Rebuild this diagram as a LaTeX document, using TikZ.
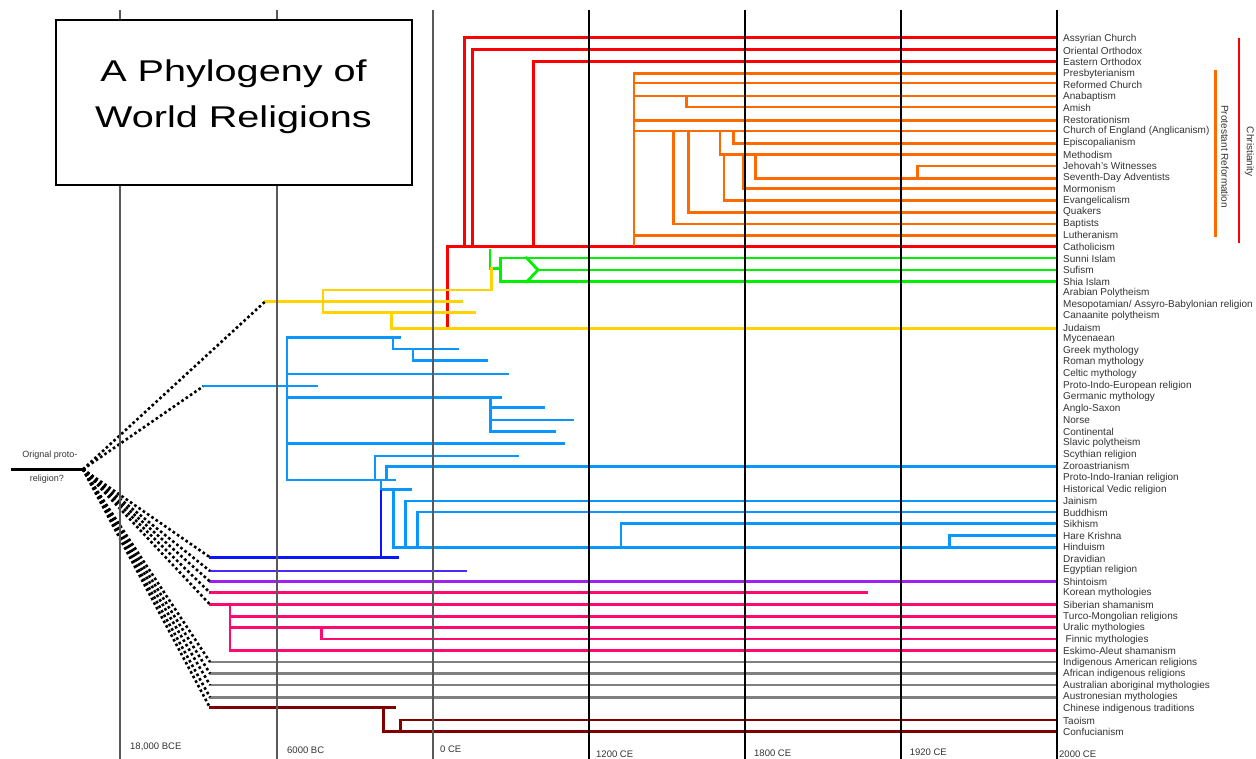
\documentclass[tikz,border=0pt]{standalone}
\usepackage{fontspec}
\setmainfont{Liberation Sans}
\usetikzlibrary{positioning}

\definecolor{cRed}{HTML}{FF0000}
\definecolor{cOrange}{HTML}{FF6A00}
\definecolor{cGreen}{HTML}{00F000}
\definecolor{cYellow}{HTML}{FFD200}
\definecolor{cBlue}{HTML}{0A96FF}
\definecolor{cDark}{HTML}{0A14FF}
\definecolor{cIndigo}{HTML}{4A28FF}
\definecolor{cPurple}{HTML}{A020F0}
\definecolor{cPink}{HTML}{FF0A6E}
\definecolor{cGray}{HTML}{808080}
\definecolor{cMaroon}{HTML}{800000}
\definecolor{cText}{HTML}{333333}

\tikzset{
  branch/.style={line width=2.8pt, line cap=rect},
  era/.style={line width=1.2pt},
  dots/.style={line width=2.6pt, dash pattern=on 2.6pt off 2.6pt},
  rel/.style={anchor=west, inner sep=0pt, text=cText, font=\fontsize{10}{12}\selectfont},
  axislbl/.style={anchor=west, inner sep=0pt, text=cText, font=\fontsize{9.5}{11}\selectfont},
}

\begin{document}
\begin{tikzpicture}[x=1pt,y=-1pt]
  \useasboundingbox (0,0) rectangle (1256,759);

  % Religions
  \foreach \t [count=\i] in {Assyrian Church, Oriental Orthodox, Eastern Orthodox,
      Presbyterianism, Reformed Church, Anabaptism, Amish, Restorationism,
      Church of England (Anglicanism), Episcopalianism, Methodism,
      Jehovah's Witnesses, Seventh-Day Adventists, Mormonism, Evangelicalism,
      Quakers, Baptists, Lutheranism, Catholicism, Sunni Islam, Sufism,
      Shia Islam, Arabian Polytheism, Mesopotamian/ Assyro-Babylonian religion,
      Canaanite polytheism, Judaism, Mycenaean, Greek mythology,
      Roman mythology, Celtic mythology, Proto-Indo-European religion,
      Germanic mythology, Anglo-Saxon, Norse, Continental, Slavic polytheism,
      Scythian religion, Zoroastrianism, Proto-Indo-Iranian religion,
      Historical Vedic religion, Jainism, Buddhism, Sikhism, Hare Krishna,
      Hinduism, Dravidian, Egyptian religion, Shintoism, Korean mythologies,
      Siberian shamanism, Turco-Mongolian religions, Uralic mythologies,
      \hspace{2.5pt}Finnic mythologies, Eskimo-Aleut shamanism,
      Indigenous American religions, African indigenous religions,
      Australian aboriginal mythologies, Austronesian mythologies,
      Chinese indigenous traditions, Taoism, Confucianism}
    \node[rel] (l\i) at (1063,{39+(\i-1)*11.55}) {\t};

  % Christianity
  \draw[branch,cRed] (447.7,328.3) |- (1055,246.7);
  \draw[branch,cRed] (464.3,246.7) |- (1055,37.5);
  \draw[branch,cRed] (472.3,246.7) |- (1055,49.5);
  \draw[branch,cRed] (533.3,246.7) |- (1055,61.5);

  \draw[branch,cOrange] (634,245) |- (1055,73.3);
  \draw[branch,cOrange] (634,83) -- (1055,83);
  \draw[branch,cOrange] (634,96) -- (1055,96);
  \draw[branch,cOrange] (686.7,96) |- (1055,107);
  \draw[branch,cOrange] (634,120.5) -- (1055,120.5);
  \draw[branch,cOrange] (634,131) -- (1055,131);
  \draw[branch,cOrange] (733.3,131) |- (1055,143.3);
  \draw[branch,cOrange] (720,131) |- (1055,154.5);
  \draw[branch,cOrange] (755.7,154.5) |- (1055,178.7);
  \draw[branch,cOrange] (917.3,178.7) |- (1055,166);
  \draw[branch,cOrange] (743.3,154.5) |- (1055,188.5);
  \draw[branch,cOrange] (724,154.5) |- (1055,200.3);
  \draw[branch,cOrange] (688.3,131) |- (1055,212.3);
  \draw[branch,cOrange] (673.3,131) |- (1055,224);
  \draw[branch,cOrange] (634,235.3) -- (1055,235.3);

  \draw[line width=2.6pt,cRed] (1239,38.3) -- (1239,242.7);
  \node[rel,anchor=center,rotate=-90] (christ) at (1249.5,151.7) {Christianity};
  \draw[line width=2.6pt,cOrange] (1215.7,70) -- (1215.7,237.3);
  \node[rel,anchor=center,rotate=-90] (protest) at (1225,156.7) {Protestant Reformation};

  % Islam
  \draw[branch,cGreen] (490,250) -- (490,268.3) -- (500.7,268.3);
  \draw[branch,cGreen] (1055,258) -- (500.7,258) -- (500.7,281.7) -- (1055,281.7);
  \draw[branch,cGreen] (526.7,258) -- (538,270) -- (526.7,281.7);
  \draw[branch,cGreen] (538,270) -- (1055,270);

  % Semitic
  \draw[branch,cYellow] (265,301.7) -- (461.7,301.7);
  \draw[branch,cYellow] (323,290) -- (323,312.7);
  \draw[branch,cYellow] (323,290) -| (491.7,268.3);
  \draw[branch,cYellow] (323,312.7) -- (475,312.7);
  \draw[branch,cYellow] (391.7,312.7) |- (1055,328.3);

  % Indo-European
  \draw[branch,cBlue] (203,386) -- (317,386);
  \draw[branch,cBlue] (287,337.3) -- (287,480);
  \draw[branch,cBlue] (287,337.3) -- (400,337.3);
  \draw[branch,cBlue] (393,337.3) |- (458,349);
  \draw[branch,cBlue] (413,349) |- (487,360.7);
  \draw[branch,cBlue] (287,374) -- (508,374);
  \draw[branch,cBlue] (287,397.3) -- (500.7,397.3);
  \draw[branch,cBlue] (490.7,397.3) |- (544,407.3);
  \draw[branch,cBlue] (490.7,397.3) |- (572.7,420);
  \draw[branch,cBlue] (490.7,397.3) |- (554.3,431.7);
  \draw[branch,cBlue] (287,443.3) -- (564,443.3);
  \draw[branch,cBlue] (287,480) -- (395,480);
  \draw[branch,cBlue] (375,480) |- (517.7,456);
  \draw[branch,cBlue] (386.7,480) |- (1055,466.3);
  \draw[branch,cBlue] (381,480) -- (381,489.5) -- (410.7,489.5);
  \draw[branch,cBlue] (393.3,489.5) |- (1055,547.3);
  \draw[branch,cBlue] (405.7,547.3) |- (1055,501);
  \draw[branch,cBlue] (417.3,547.3) |- (1055,512);
  \draw[branch,cBlue] (621,547.3) |- (1055,523.5);
  \draw[branch,cBlue] (949.6,547.3) |- (1055,535.8);

  % Others
  \draw[branch,cDark] (381,491) -- (381,557.3);
  \draw[branch,cDark] (210,557.3) -- (398,557.3);
  \draw[branch,cIndigo] (210,571) -- (466,571);
  \draw[branch,cPurple] (210,581.5) -- (1055,581.5);

  \draw[branch,cPink] (210,592.7) -- (866.4,592.7);
  \draw[branch,cPink] (210,604.5) -- (1055,604.5);
  \draw[branch,cPink] (230,604.5) |- (1055,650.8);
  \draw[branch,cPink] (230,616.5) -- (1055,616.5);
  \draw[branch,cPink] (230,627.5) -- (1055,627.5);
  \draw[branch,cPink] (321.7,627.5) |- (1055,639);

  \foreach \y in {662,673.5,685,697.3}
    \draw[branch,cGray] (210,\y) -- (1055,\y);

  \draw[branch,cMaroon] (210,707.7) -- (394.3,707.7);
  \draw[branch,cMaroon] (383.3,707.7) |- (1055,731.7);
  \draw[branch,cMaroon] (400.7,731.7) |- (1055,720);

  % Origin
  \coordinate (origin) at (83,469.3);
  \draw[line width=2.8pt] (11,469.3) -- (origin);
  \foreach \xe/\ye in {265/301.7, 203/386.5, 210/557.3, 210/571, 210/581.5,
      210/592.7, 210/604.5, 210/662, 210/673.5, 210/685, 210/697.3, 210/707.7}
    \draw[dots] (origin) -- (\xe,\ye);
  \node[axislbl,anchor=center,font=\fontsize{9}{11}\selectfont] (orig1) at (50,455.5) {Orignal proto-};
  \node[axislbl,anchor=center,font=\fontsize{9}{11}\selectfont] (orig2) at (47,479) {religion?};

  % Eras
  \foreach \x in {120,277,433}
    \draw[era,black!65] (\x,10) -- (\x,759);
  \foreach \x in {589,745,901,1057}
    \draw[era] (\x,10) -- (\x,759);

  \foreach \x/\y/\t in {130/747/{18,000 BCE}, 287/750.5/6000 BC, 440/749/0 CE,
      596/754/1200 CE, 754/753/1800 CE, 909.6/752/1920 CE, 1059/754/2000 CE}
    \node[axislbl] at (\x,\y) {\t};

  % Title
  \draw[fill=white,line width=1.1pt] (56,20) rectangle (412,185);
  \node[anchor=base,inner sep=0pt,xscale=1.32,font=\fontsize{30}{36}\selectfont] (title1) at (233.5,82) {A Phylogeny of};
  \node[anchor=base,inner sep=0pt,xscale=1.32,font=\fontsize{30}{36}\selectfont] (title2) at (233.5,128) {World Religions};
\end{tikzpicture}
\end{document}
